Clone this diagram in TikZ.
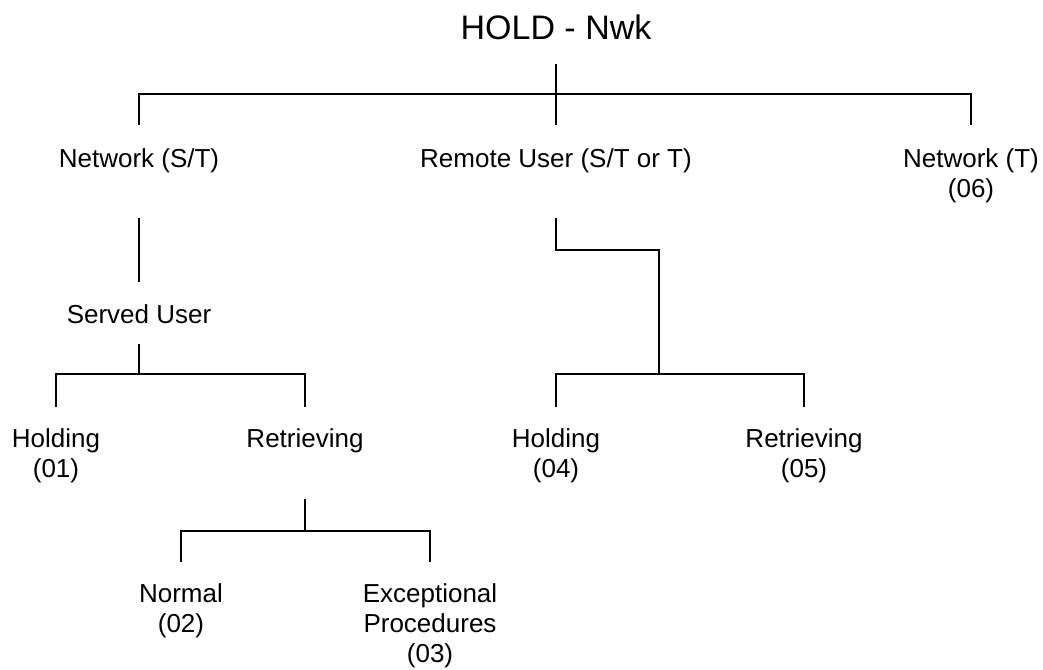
\documentclass[tikz,border=0pt]{standalone}
\usepackage{fontspec}
\setmainfont{Liberation Sans}
\begin{document}
\begin{tikzpicture}[x=1pt,y=-1pt,
  lbl/.style={font=\fontsize{26}{30}\selectfont, inner sep=0pt, anchor=base, align=center},
  ttl/.style={font=\fontsize{34}{40}\selectfont, inner sep=0pt, anchor=base},
  conn/.style={line width=2pt, line join=miter}]
\useasboundingbox (0,0) rectangle (1043,669);
% labels (anchored at the baseline of their last line)
\node[ttl] (root) at (556,40)  {HOLD - Nwk};
\node[lbl] (nst) at (139,167) {Network (S/T)};
\node[lbl] (ru)  at (556,167) {Remote User (S/T or T)};
\node[lbl] (nt)  at (971,197) {Network (T)\\(06)};
\node[lbl] (su)  at (139,323) {Served User};
\node[lbl] (h1)  at (56,477)  {Holding\\(01)};
\node[lbl] (r1)  at (305,447) {Retrieving};
\node[lbl] (h4)  at (556,477) {Holding\\(04)};
\node[lbl] (r5)  at (804,477) {Retrieving\\(05)};
\node[lbl] (n2)  at (181,632) {Normal\\(02)};
\node[lbl] (ex)  at (430,662) {Exceptional\\Procedures\\(03)};
% connector end points
\coordinate (rootB) at (556,64);
\coordinate (nstT) at (139,125);
\coordinate (ruT)  at (556,125);
\coordinate (ntT)  at (971,125);
\coordinate (nstB) at (139,218);
\coordinate (suT)  at (139,282);
\coordinate (suB)  at (139,344);
\coordinate (h1T)  at (56,407);
\coordinate (r1T)  at (305,407);
\coordinate (ruB)  at (556,218);
\coordinate (jog)  at (659,250);
\coordinate (h4T)  at (556,407);
\coordinate (r5T)  at (804,407);
\coordinate (r1B)  at (305,499);
\coordinate (n2T)  at (181,562);
\coordinate (exT)  at (430,562);
% connectors
\draw[conn] (rootB) -- (ruT);
\draw[conn] (nstT) -- ++(0,-31) -| (ntT);
\draw[conn] (nstB) -- (suT);
\draw[conn] (suB) -- ++(0,30);
\draw[conn] (h1T) -- ++(0,-33) -| (r1T);
\draw[conn] (ruB) |- (jog) -- ++(0,124);
\draw[conn] (h4T) -- ++(0,-33) -| (r5T);
\draw[conn] (r1B) -- ++(0,31);
\draw[conn] (n2T) -- ++(0,-31) -| (exT);
\end{tikzpicture}
\end{document}
